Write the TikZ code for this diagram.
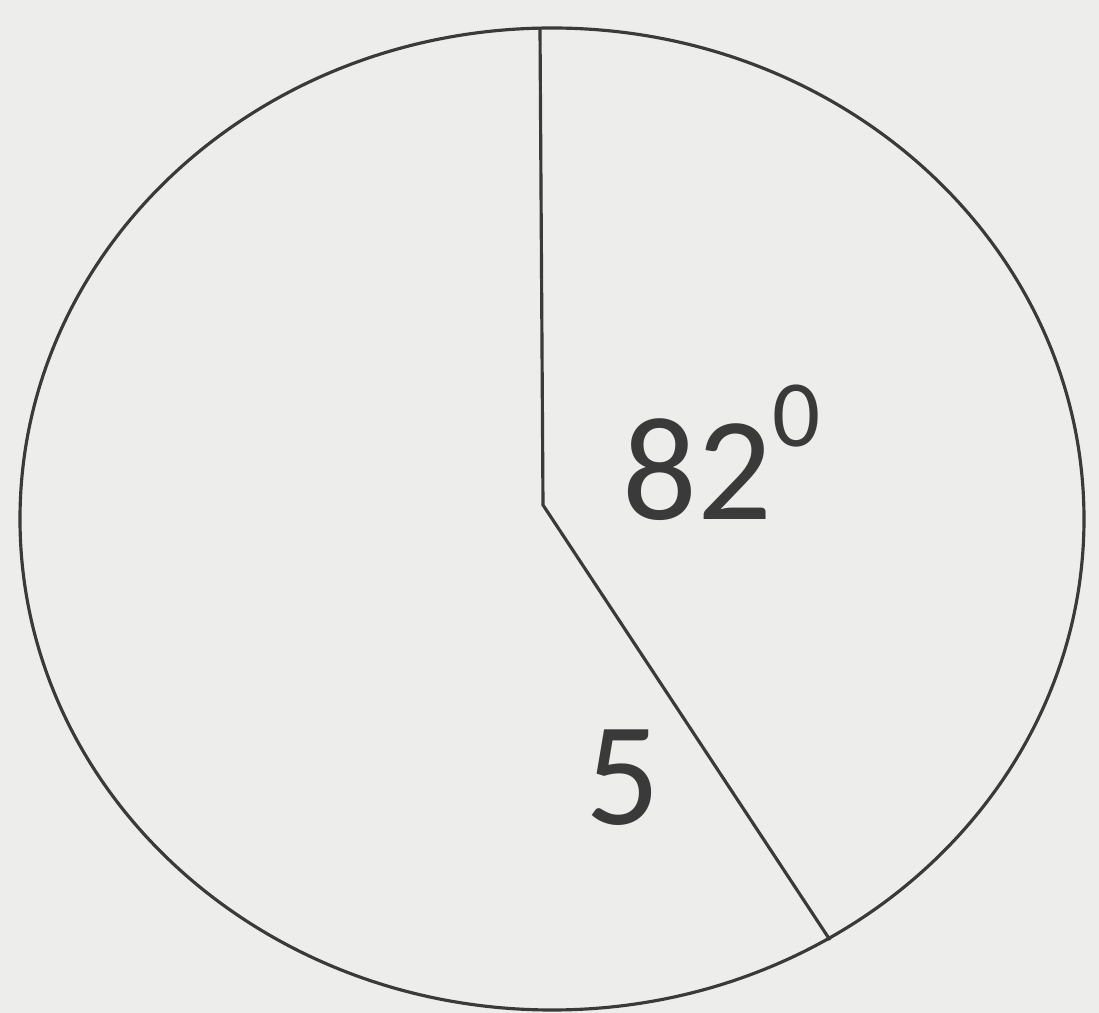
\documentclass[tikz,border=0pt]{standalone}
\usepackage{fontspec}
\setmainfont{Carlito}
\definecolor{paper}{HTML}{EDEDEB}
\definecolor{ink}{HTML}{3A3A3A}
\begin{document}
\begin{tikzpicture}[x=1.0cm,y=1.0cm]
\fill[paper] (0,0) rectangle (10.99,10.13);
\useasboundingbox (0,0) rectangle (10.99,10.13);
\coordinate (c) at (5.43,5.08);
\coordinate (top) at (5.40,9.85);
\coordinate (rim) at (8.30,0.73);
\draw[ink,line width=0.9pt] (5.52,4.94) ellipse [x radius=5.32,y radius=4.91];
\draw[ink,line width=0.9pt] (top) -- (c) -- (rim);
\node[anchor=base west,inner sep=0pt,text=ink,font=\fontsize{42}{50}\selectfont] (ang) at (6.22,4.93) {82\raisebox{21pt}{\fontsize{27}{30}\selectfont 0}};
\node[anchor=base west,inner sep=0pt,text=ink,font=\fontsize{42}{50}\selectfont] (len) at (5.85,1.88) {5};
\end{tikzpicture}
\end{document}
